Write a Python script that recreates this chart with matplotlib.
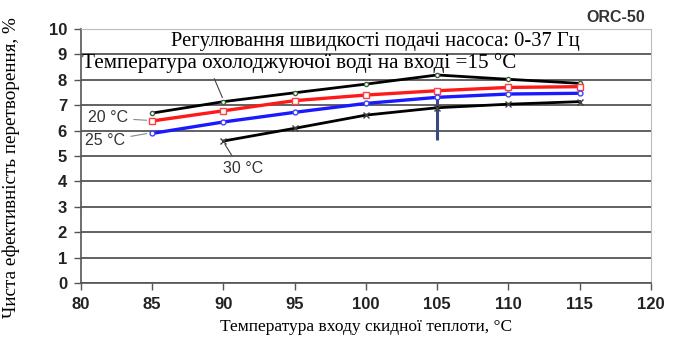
import matplotlib.pyplot as plt

# ORC-50: net conversion efficiency vs. waste-heat inlet temperature
t_in = [85, 90, 95, 100, 105, 110, 115]
eff_15 = [6.69, 7.14, 7.49, 7.83, 8.19, 8.02, 7.86]
eff_20 = [6.38, 6.78, 7.18, 7.40, 7.57, 7.70, 7.73]
eff_25 = [5.89, 6.34, 6.72, 7.07, 7.31, 7.44, 7.47]
t_in_30 = [90, 95, 100, 105, 110, 115]
eff_30 = [5.59, 6.09, 6.61, 6.90, 7.04, 7.14]

serif = 'Liberation Serif'
sans = 'Liberation Sans'

fig = plt.figure(figsize=(6.81, 3.42), dpi=100)
ax = fig.add_axes([0.1189, 0.1725, 0.837, 0.7427])

ax.set_xlim(80, 120)
ax.set_ylim(0, 10)
ax.set_xticks(range(80, 121, 5))
ax.set_yticks(range(0, 11))
ax.grid(axis='y', color='#555555', lw=1.3)
ax.set_axisbelow(True)
for s in ['top', 'right']:
    ax.spines[s].set_color('#bbbbbb')
for s in ['left', 'bottom']:
    ax.spines[s].set_color('#555555')
    ax.spines[s].set_linewidth(1.2)
ax.tick_params(axis='both', direction='out', length=5, width=1, color='#555555',
               labelsize=12, pad=5)
for lbl in ax.get_xticklabels() + ax.get_yticklabels():
    lbl.set_fontfamily(sans)
    lbl.set_fontweight('bold')
    lbl.set_color('#222222')

ax.plot(t_in, eff_15, color='black', lw=2, marker='o', ms=3,
        mfc='white', mec='#406040', zorder=4)
ax.plot(t_in, eff_20, color='#ff1a1a', lw=2.4, marker='s', ms=4,
        mfc='white', mec='#ff4040', zorder=4)
ax.plot(t_in, eff_25, color='#1a1aff', lw=2.4, marker='o', ms=3.5,
        mfc='white', mec='#4040ff', zorder=4)
ax.plot(t_in_30, eff_30, color='black', lw=2, marker='x', ms=4,
        mec='#404040', zorder=4)
ax.vlines(105, 5.63, eff_25[4], color='#3a4a80', lw=2.2, zorder=3)

ax.text(100.65, 9.5, 'Регулювання швидкості подачі насоса: 0-37 Гц',
        ha='center', va='center', fontsize=14.8, family=serif)
ax.annotate('Температура охолоджуючої воді на вході =15 °С', xy=(90, 7.2),
            xytext=(80.05, 8.65), ha='left', va='center', fontsize=15.2,
            family=serif,
            arrowprops=dict(arrowstyle='-', color='#444444', lw=0.8,
                            relpos=(0.3, 0.0)))
ax.annotate('20 °С', xy=(84.8, 6.4), xytext=(80.5, 6.5), ha='left',
            va='center', fontsize=11.5, family=sans, color='#333333',
            arrowprops=dict(arrowstyle='-', color='#888888', lw=0.8))
ax.annotate('25 °С', xy=(84.8, 5.9), xytext=(80.3, 5.6), ha='left',
            va='center', fontsize=11.5, family=sans, color='#333333',
            arrowprops=dict(arrowstyle='-', color='#888888', lw=0.8))
ax.annotate('30 °С', xy=(90, 5.55), xytext=(91.4, 4.5), ha='center',
            va='center', fontsize=11.5, family=sans, color='#333333',
            arrowprops=dict(arrowstyle='-', color='#444444', lw=0.8,
                            relpos=(0.3, 1.0)))

fig.text(0.947, 0.95, 'ORC-50', ha='right', va='center', fontsize=11.5,
         family=sans, fontweight='bold', color='#333333')

ax.set_xlabel('Температура входу скидної теплоти, °С', fontsize=12.5,
              family=serif, labelpad=5)
ax.set_ylabel('Чиста ефективність перетворення, %', fontsize=13.8,
              family=serif)
ax.yaxis.set_label_coords(-0.107, 0.455)

fig.savefig('out.png', dpi=100)
